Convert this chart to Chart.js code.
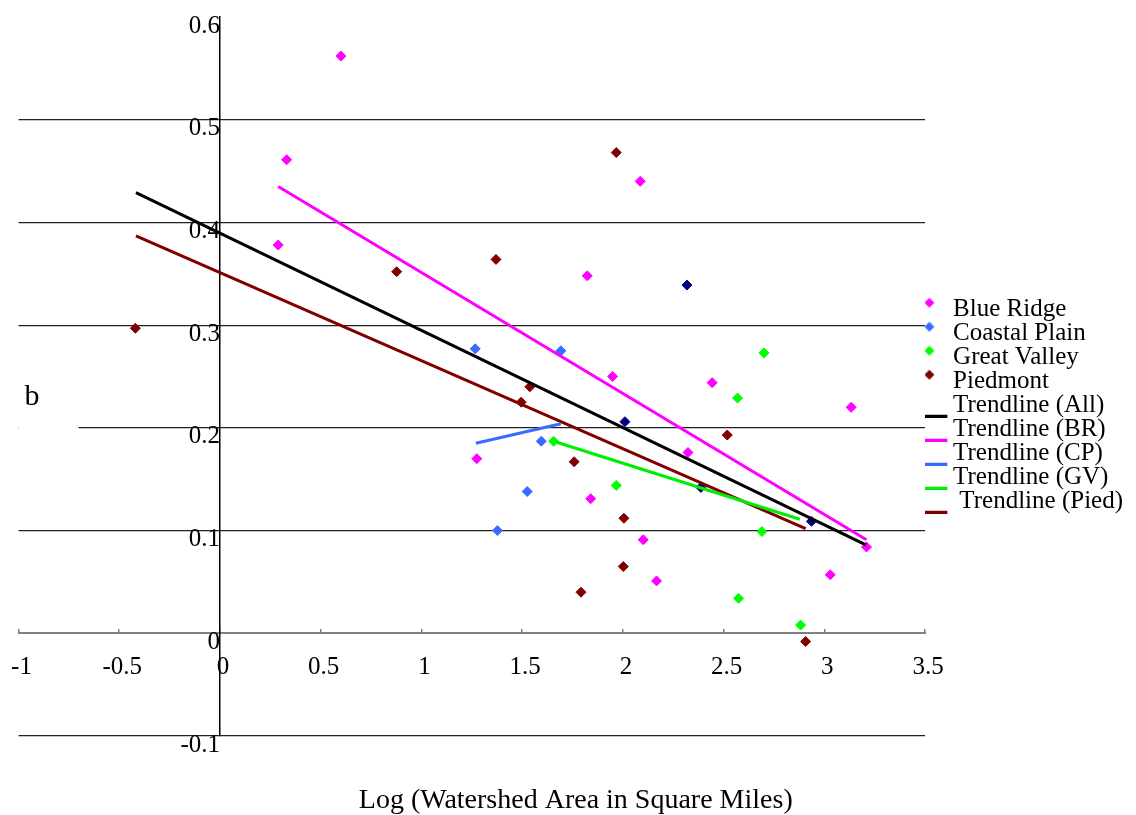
<!DOCTYPE html>
<html>
<head>
<meta charset="utf-8">
<title>b vs Log (Watershed Area)</title>
<script src="https://cdn.jsdelivr.net/npm/chart.js@4.4.1/dist/chart.umd.min.js"></script>
<style>
  html, body { margin: 0; padding: 0; background: #fff; }
</style>
</head>
<body>
<canvas id="bChart" width="1136" height="815"></canvas>
<script>
// [log10 area (sq mi), b]
const blueRidge = [[0.600, 0.562], [0.331, 0.461], [0.289, 0.378], [1.823, 0.348], [2.086, 0.440],
  [1.949, 0.250], [2.443, 0.244], [3.133, 0.220], [2.323, 0.176], [1.275, 0.170], [1.840, 0.131],
  [2.101, 0.091], [3.209, 0.084], [3.029, 0.057], [2.167, 0.051]];
const coastalPlain = [[1.267, 0.277], [1.692, 0.275], [1.595, 0.187], [1.525, 0.138], [1.377, 0.100]];
const greatValley = [[2.700, 0.273], [2.569, 0.229], [1.656, 0.187], [1.967, 0.144], [2.690, 0.099],
  [2.574, 0.034], [2.882, 0.008]];
const piedmont = [[-0.420, 0.297], [0.877, 0.352], [1.370, 0.364], [1.967, 0.468], [1.538, 0.240],
  [1.495, 0.225], [2.518, 0.193], [1.758, 0.167], [2.005, 0.112], [2.002, 0.065], [1.792, 0.040],
  [2.907, -0.008]];
// navy points, not in the legend
const otherSites = [[2.318, 0.339], [2.010, 0.206], [2.387, 0.142], [2.936, 0.109]];

// trendline end points
const trendAll = [[-0.417, 0.429], [3.206, 0.086]];
const trendBR = [[0.289, 0.435], [3.209, 0.091]];
const trendCP = [[1.270, 0.185], [1.692, 0.204]];
const trendGV = [[1.656, 0.187], [2.878, 0.111]];
const trendPied = [[-0.417, 0.387], [2.907, 0.102]];

const xTicks = { min: -1, max: 3.5, step: 0.5 };
const yTicks = { min: -0.1, max: 0.6, step: 0.1 };

const serif = "'Liberation Serif', 'Times New Roman', serif";
Chart.defaults.font.family = serif;
Chart.defaults.color = '#000';

const toXY = arr => arr.map(p => ({ x: p[0], y: p[1] }));
const fmt = v => String(Number(v.toFixed(2)));

const markerSets = [
  { label: 'Blue Ridge', data: blueRidge, color: '#ff00ff' },
  { label: 'Coastal Plain', data: coastalPlain, color: '#3a6bff' },
  { label: 'Great Valley', data: greatValley, color: '#00ff00' },
  { label: 'Piedmont', data: piedmont, color: '#800000' },
  { label: 'Other', data: otherSites, color: '#000080', noLegend: true }
];
const trendSets = [
  { label: 'Trendline (All)', data: trendAll, color: '#000000' },
  { label: 'Trendline (BR)', data: trendBR, color: '#ff00ff' },
  { label: 'Trendline (CP)', data: trendCP, color: '#3a6bff' },
  { label: 'Trendline (GV)', data: trendGV, color: '#00ee00' },
  { label: ' Trendline (Pied)', data: trendPied, color: '#800000' }
];

// small images used as legend symbols (offset a bit like the original)
function legendGlyph(kind, color) {
  const c = document.createElement('canvas');
  const g = c.getContext('2d');
  if (kind === 'point') {
    c.width = 18; c.height = 26;
    g.fillStyle = color;
    g.beginPath();
    g.moveTo(6, 1); g.lineTo(11, 6); g.lineTo(6, 11); g.lineTo(1, 6);
    g.closePath();
    g.fill();
  } else {
    c.width = 42; c.height = 24;
    g.fillStyle = color;
    g.fillRect(0, 21, 36, 3);
  }
  return c;
}

const datasets = [];
const legendItems = [];

trendSets.forEach(s => {
  datasets.push({
    label: s.label,
    data: toXY(s.data),
    showLine: true,
    borderColor: s.color,
    borderWidth: 3,
    pointRadius: 0,
    fill: false,
    order: 0
  });
});
markerSets.forEach(s => {
  datasets.push({
    label: s.label,
    data: toXY(s.data),
    pointStyle: 'rectRot',
    pointRadius: 5,
    pointBorderWidth: 1,
    backgroundColor: s.color,
    borderColor: s.color,
    order: 1
  });
});

markerSets.forEach((s, i) => {
  if (!s.noLegend) legendItems.push({ text: s.label, glyph: legendGlyph('point', s.color), color: s.color, index: trendSets.length + i });
});
trendSets.forEach((s, i) => {
  legendItems.push({ text: s.label, glyph: legendGlyph('line', s.color), color: s.color, index: i });
});

// "b" label sitting in a white box at the left of the plot
const yLabelPlugin = {
  id: 'yLabel',
  beforeDatasetsDraw(chart) {
    const ctx = chart.ctx;
    const area = chart.chartArea;
    const ys = chart.scales.y;
    ctx.save();
    ctx.fillStyle = '#fff';
    ctx.fillRect(area.left, ys.getPixelForValue(0.28), 60, ys.getPixelForValue(0.19) - ys.getPixelForValue(0.28));
    ctx.fillStyle = '#000';
    ctx.font = '30px ' + serif;
    ctx.textAlign = 'left';
    ctx.textBaseline = 'alphabetic';
    ctx.fillText('b', area.left + 6, ys.getPixelForValue(0.222));
    ctx.restore();
  }
};

new Chart(document.getElementById('bChart'), {
  type: 'scatter',
  data: { datasets: datasets },
  options: {
    responsive: false,
    animation: false,
    events: [],
    layout: { padding: { left: 18.5, top: 17, right: 3, bottom: 0 } },
    scales: {
      x: {
        type: 'linear',
        position: { y: 0 },
        min: xTicks.min,
        max: xTicks.max,
        ticks: { stepSize: xTicks.step, font: { size: 25 }, padding: 0, labelOffset: 3, color: '#000', callback: fmt },
        grid: { drawOnChartArea: false, drawTicks: true, tickLength: 19, tickColor: 'rgba(0,0,0,0)' },
        border: { display: true, color: '#808080', width: 2 }
      },
      // only draws the small upward tick marks on the x axis
      xMarks: {
        type: 'linear',
        position: { y: 0 },
        min: xTicks.min,
        max: xTicks.max,
        ticks: { stepSize: xTicks.step, display: false },
        grid: { drawOnChartArea: false, drawTicks: true, tickLength: -4, color: '#808080', lineWidth: 1.5 },
        border: { display: false }
      },
      y: {
        type: 'linear',
        position: { x: 0 },
        min: yTicks.min,
        max: yTicks.max,
        ticks: { stepSize: yTicks.step, font: { size: 25 }, padding: 0, labelOffset: 9, color: '#000', callback: fmt },
        grid: {
          drawTicks: false,
          lineWidth: 1.2,
          color: c => (Math.abs(c.tick.value - yTicks.max) < 1e-9 || Math.abs(c.tick.value) < 1e-9) ? 'rgba(0,0,0,0)' : '#222'
        },
        border: { display: true, color: '#000', width: 1.5 }
      }
    },
    plugins: {
      tooltip: { enabled: false },
      title: {
        display: true,
        position: 'bottom',
        text: 'Log (Watershed Area in Square Miles)',
        font: { size: 28, weight: 'normal' },
        color: '#000',
        padding: { top: 48, bottom: -2.6 }
      },
      legend: {
        position: 'right',
        align: 'start',
        title: { display: true, text: '', font: { size: 10 }, padding: { top: 269.2, bottom: 0 } },
        labels: {
          usePointStyle: true,
          pointStyleWidth: 16.5,
          padding: -1,
          font: { size: 25 },
          color: '#000',
          generateLabels: () => legendItems.map(it => ({
            text: it.text,
            pointStyle: it.glyph,
            fillStyle: it.color,
            strokeStyle: it.color,
            lineWidth: 0,
            fontColor: '#000',
            hidden: false,
            datasetIndex: it.index
          }))
        }
      }
    }
  },
  plugins: [yLabelPlugin]
});
</script>
</body>
</html>
